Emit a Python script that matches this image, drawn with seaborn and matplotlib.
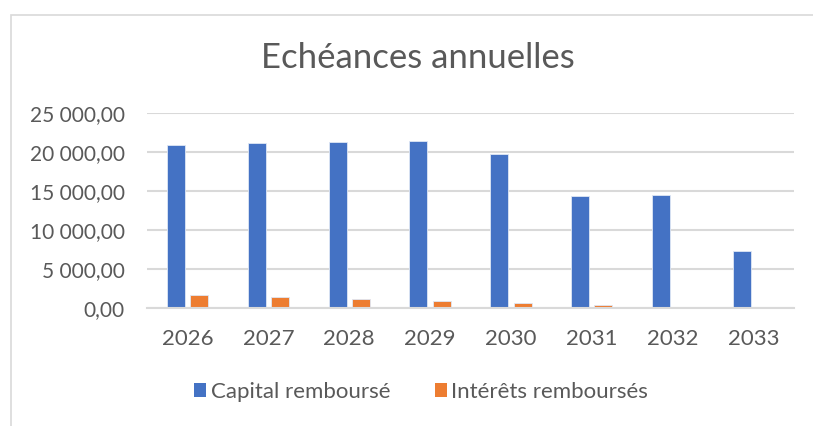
import matplotlib
matplotlib.use("Agg")
import matplotlib.pyplot as plt
import matplotlib.ticker as mticker
from matplotlib.patches import Rectangle, Patch
import seaborn as sns
import pandas as pd

years = ["2026", "2027", "2028", "2029", "2030", "2031", "2032", "2033"]
capital = [20870, 21080, 21210, 21420, 19760, 14310, 14480, 7330]
interets = [1700, 1410, 1150, 890, 640, 380, 170, 20]
series_names = ["Capital rembours\u00e9", "Int\u00e9r\u00eats rembours\u00e9s"]
colors = ["#4472C4", "#ED7D31"]
title = "Ech\u00e9ances annuelles"

df = pd.DataFrame({
    "year": years * 2,
    "value": capital + interets,
    "serie": [series_names[0]] * len(years) + [series_names[1]] * len(years),
})

sns.set_theme(style="white")
plt.rcParams["font.family"] = ["Lato", "DejaVu Sans"]

fig = plt.figure(figsize=(8.13, 4.26), dpi=100)
W, H = 813, 426
ax = fig.add_axes([147 / W, 1 - 308.3 / H, (794 - 147) / W, (308.3 - 112.7) / H])

sns.barplot(data=df, x="year", y="value", hue="serie", palette=colors,
            width=0.574, gap=0.225, ax=ax, legend=False, saturation=1,
            edgecolor="#dfe7f5", linewidth=0.6)

ax.set_ylim(0, 25000)
ax.set_yticks([0, 5000, 10000, 15000, 20000, 25000])
ax.yaxis.set_major_formatter(mticker.FuncFormatter(
    lambda v, p: "{:,.2f}".format(v).replace(",", " ").replace(".", ",")))
ax.grid(axis="y", color="#d9d9d9", linewidth=1.5)
ax.set_axisbelow(True)
for s in ["top", "right", "left"]:
    ax.spines[s].set_visible(False)
ax.spines["bottom"].set_color("#d9d9d9")
ax.spines["bottom"].set_linewidth(1.5)
ax.tick_params(axis="both", length=0, colors="#595959")
ax.tick_params(axis="y", pad=16, labelsize=15)
ax.tick_params(axis="x", pad=15, labelsize=16)
ax.set_xlabel("")
ax.set_ylabel("")

fig.text(418 / W, 1 - 58 / H, title, ha="center", va="center",
         fontsize=25, color="#595959")

handles = [Patch(facecolor=c, edgecolor="none") for c in colors]
fig.legend(handles, series_names, loc="center", bbox_to_anchor=(421 / W, 1 - 392 / H),
           ncol=2, frameon=False, fontsize=16, labelcolor="#595959",
           handlelength=0.55, handleheight=0.55, handletextpad=0.2, columnspacing=2.0)

fig.patches.append(Rectangle((10.5 / W, -0.1), 1.2, 1 - 14.5 / H + 0.1,
                             transform=fig.transFigure, fill=False,
                             edgecolor="#d9d9d9", linewidth=1.2))

fig.savefig("out.png", dpi=100, facecolor="white")
